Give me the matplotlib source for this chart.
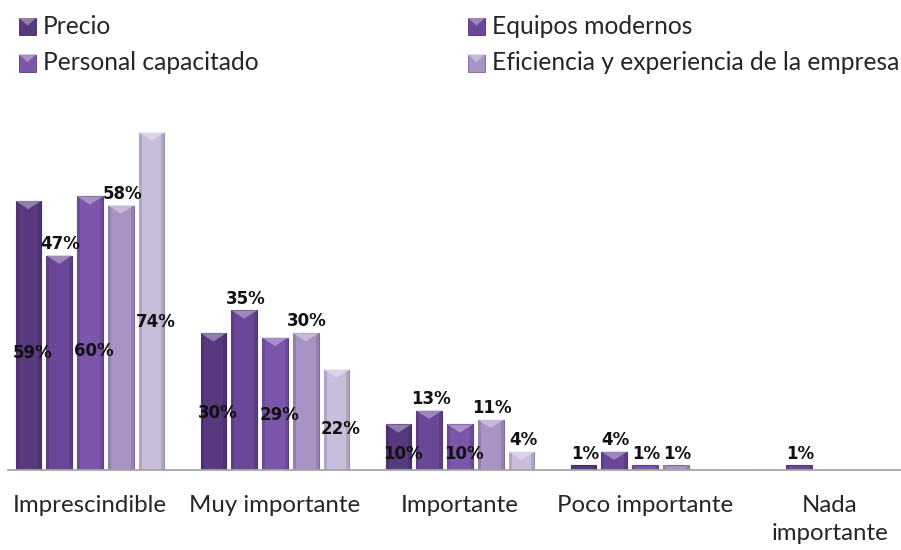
import matplotlib
matplotlib.use("Agg")
import matplotlib.pyplot as plt
from matplotlib.patches import Rectangle, Polygon
import matplotlib.colors as mcolors
import numpy as np

# ---- data ----
categories = ["Imprescindible", "Muy importante", "Importante", "Poco importante", "Nada\nimportante"]
series_names = ["Precio", "Equipos modernos", "Personal capacitado",
                "Eficiencia y experiencia de la empresa", ""]
precio = [59, 30, 10, 1, 0]
equipos = [47, 35, 13, 4, 1]
personal = [60, 29, 10, 1, 0]
eficiencia = [58, 30, 11, 1, 0]
otro = [74, 22, 4, 0, 0]
series_values = [precio, equipos, personal, eficiencia, otro]

# ---- style ----
colors = ["#58397e", "#6a4797", "#7b56aa", "#a793c4", "#c8bddb"]
label_mode = ["center", "above", "center", "above", "center"]
W_PX, H_PX = 901, 550
font_txt = "Lato"
txt_color = "#262626"

fig = plt.figure(figsize=(W_PX / 100, H_PX / 100), dpi=100)

# axes geometry in pixels (category centre spacing 185 px, baseline at y=470)
ax_left_px, ax_width_px = -2.5, 925
base_px, px_per_unit = 470, 4.56
ymax = 80
ax = fig.add_axes([ax_left_px / W_PX, (H_PX - base_px) / H_PX,
                   ax_width_px / W_PX, ymax * px_per_unit / H_PX])
ax.set_xlim(-0.5, len(categories) - 0.5)
ax.set_ylim(0, ymax)
ax.patch.set_alpha(0)

n = len(series_values)
step = 0.1665
bw = 0.138
x = np.arange(len(categories))


def lighten(c, f):
    r, g, b = mcolors.to_rgb(c)
    return (r + (1 - r) * f, g + (1 - g) * f, b + (1 - b) * f)


def darken(c, f):
    r, g, b = mcolors.to_rgb(c)
    return (r * (1 - f), g * (1 - f), b * (1 - f))


for j, (vals, col) in enumerate(zip(series_values, colors)):
    offs = (j - (n - 1) / 2) * step
    bars = ax.bar(x + offs, vals, width=bw, color=col,
                  edgecolor=darken(col, 0.25), linewidth=0.8, zorder=3)
    for b, v in zip(bars, vals):
        if v <= 0:
            continue
        bx, bwid, bh = b.get_x(), b.get_width(), b.get_height()
        # side shading for a rounded look
        ax.add_patch(Rectangle((bx, 0), bwid * 0.12, bh, color=darken(col, 0.12),
                               lw=0, zorder=3.5))
        ax.add_patch(Rectangle((bx + bwid * 0.88, 0), bwid * 0.12, bh,
                               color=darken(col, 0.12), lw=0, zorder=3.5))
        # bevel at top
        d = min(1.8, bh * 0.5)
        if bh >= 2:
            ax.add_patch(Polygon([(bx, bh), (bx + bwid, bh), (bx + bwid / 2, bh - d)],
                                 closed=True, color=lighten(col, 0.35), lw=0, zorder=4))
        # data labels
        lab = f"{v}%"
        if label_mode[j] == "center" and v >= 5:
            ax.annotate(lab, (bx + bwid / 2, bh * 0.45), xytext=(3, -3),
                        textcoords="offset points", ha="center", va="center",
                        fontsize=12, fontweight="bold", family="DejaVu Sans",
                        color="#111111", zorder=6)
        else:
            ax.annotate(lab, (bx + bwid / 2, bh), xytext=(1, 2),
                        textcoords="offset points", ha="center", va="bottom",
                        fontsize=12, fontweight="bold", family="DejaVu Sans",
                        color="#111111", zorder=6)

# axes styling
for s in ["top", "right", "left"]:
    ax.spines[s].set_visible(False)
ax.spines["bottom"].set_color("#a6a6a6")
ax.spines["bottom"].set_linewidth(1.3)
ax.spines["bottom"].set_bounds(-0.5 + (8 - ax_left_px) / 185, len(categories) - 0.5)
ax.spines["bottom"].set_zorder(5)
ax.set_yticks([])
ax.set_xticks(x)
ax.set_xticklabels(categories, fontsize=17.3, family=font_txt, color=txt_color,
                   linespacing=1.4)
ax.tick_params(axis="x", length=0, pad=18)

# legend (row-major, 2 columns) drawn manually
leg_x_px = [19, 468]
leg_y_px = [26.5, 63]
msz = 17
for k, name in enumerate(series_names[:4]):
    r, c = divmod(k, 2)
    mx, my = leg_x_px[c], leg_y_px[r]
    col = colors[k]
    x0, y0 = mx / W_PX, (H_PX - my - msz / 2) / H_PX
    wf, hf = msz / W_PX, msz / H_PX
    fig.patches.append(Rectangle((x0, y0), wf, hf, transform=fig.transFigure,
                                 facecolor=col, edgecolor=darken(col, 0.3), lw=0.6))
    fig.patches.append(Polygon([(x0, y0 + hf), (x0 + wf, y0 + hf),
                                (x0 + wf / 2, y0 + hf * 0.55)], closed=True,
                               transform=fig.transFigure, color=lighten(col, 0.35), lw=0))
    fig.text((mx + msz + 7) / W_PX, (H_PX - my) / H_PX, name, fontsize=17.7,
             family=font_txt, color=txt_color, ha="left", va="center")

fig.savefig("out.png", dpi=100, facecolor="white")
